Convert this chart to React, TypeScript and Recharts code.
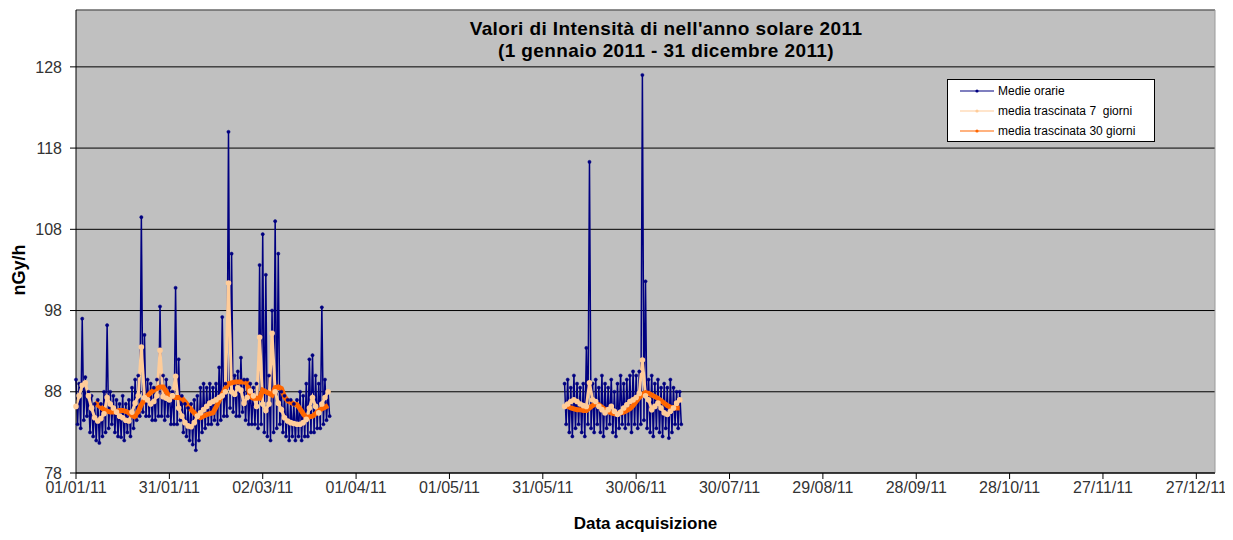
import React from "react";
import {
  CartesianGrid,
  Label,
  Line,
  LineChart,
  ReferenceLine,
  XAxis,
  YAxis,
} from "recharts";

// x = giorni dal 01/01/11
const TICK_DAYS = [0, 30, 60, 90, 120, 150, 180, 210, 240, 270, 300, 330, 360];
const TICK_LABELS = [
  "01/01/11", "31/01/11", "02/03/11", "01/04/11", "01/05/11", "31/05/11", "30/06/11",
  "30/07/11", "29/08/11", "28/09/11", "28/10/11", "27/11/11", "27/12/11",
];
const Y_TICKS = [78, 88, 98, 108, 118, 128];

// medie orarie: massimo e minimo giornaliero
const SEG1_START = 0;
const SEG1_HI = [
  89.5, 89, 97, 89.8, 88, 87.5, 86.5, 87, 86.5, 88, 96.2, 88, 87.5, 87, 86.5, 87.5, 86.5,
  87, 88.5, 89.5, 90, 109.5, 95, 89.5, 89, 88.5, 89.5, 98.5, 90, 89.5, 88.5, 88, 100.8,
  92, 87.5, 86.5, 86, 86.5, 87, 87.5, 88.5, 89, 88.5, 89, 88.5, 89, 91, 97.2, 89, 120,
  105, 90, 90.5, 92.2, 89.5, 89.5, 89, 88.5, 89, 103.6, 107.4, 102.4, 90, 98, 109, 105,
  88, 87.5, 87, 87, 86.5, 87, 88, 87.5, 89, 92, 92.5, 90, 89, 98.4, 89.5, 88,
];
const SEG1_LO = [
  84, 83.5, 84.5, 85, 83, 82.5, 82, 81.7, 82.5, 83, 83.5, 84, 83, 82.5, 82.4, 82, 83,
  82.5, 83.5, 84.5, 85, 85.5, 85, 85, 84.5, 84.5, 85, 85, 84.5, 85, 84, 84, 84, 84.5, 83,
  82.5, 82, 81.5, 80.8, 82, 83, 83.5, 84, 84, 84.5, 84, 84.5, 85, 85, 86, 85.5, 85, 85,
  85.5, 84.5, 84, 84, 84, 83.5, 84, 83, 82.5, 82, 83, 83.5, 84, 83, 82.5, 82, 82.5, 82,
  82.5, 82, 82.5, 82.5, 83, 83, 83.5, 83.5, 84, 84.5, 85,
];
const SEG2_START = 157;
const SEG2_HI = [
  89, 89.5, 88.5, 90, 89, 88.5, 89, 93.4, 116.3, 89, 89.5, 88.5, 90, 89, 88.5, 89.5, 88,
  89, 90, 89, 89.5, 90, 90.5, 90, 90.5, 127, 101.6, 89.5, 90, 89, 89.5, 88.5, 89, 88.5,
  89.5, 88.5, 88, 88,
];
const SEG2_LO = [
  84, 83, 82.5, 83.5, 84, 83, 82.5, 84, 83.5, 83, 84, 83, 82.5, 83.5, 84, 83, 82.5, 83.5,
  84, 83.5, 84, 83, 84, 83.5, 84, 84.5, 83.5, 83, 82.5, 83.5, 83, 82.5, 83.5, 82.3, 83,
  84, 83.5, 84,
];

// media trascinata 7 giorni
const MA7_SEG1_START = 0;
const MA7_SEG1 = [
  86.2, 87.5, 88.8, 89.1, 87.5, 86, 84.8, 84.4, 84.7, 85.3, 87.3, 86.5, 86, 85.5, 85,
  84.8, 84.5, 84.4, 85.5, 86.6, 87.5, 93.5, 87.3, 87, 86.5, 86.8, 87.5, 93.1, 87.4, 87.2,
  87, 87.5, 89.9, 86, 85, 84.2, 83.8, 83.7, 84.2, 85, 85.4, 85.8, 86.2, 86.6, 86.8, 87,
  87.3, 87.5, 88, 101.4, 88, 87.7, 88.5, 88.2, 86.6, 87.3, 88.1, 87.5, 86.2, 94.7, 86.5,
  85.7, 86.5, 95.2, 88, 86.6, 85.8, 84.8, 84.4, 84.2, 84.1, 84, 84, 84.2, 84.6, 86, 87.3,
  86.2, 85.4, 86.5, 87.3, 88,
];
const MA7_SEG2_START = 157;
const MA7_SEG2 = [
  86.2, 86.5, 86.8, 87, 86.8, 86.5, 86.3, 86.2, 89.1, 87, 86.8, 86.2, 85.8, 85.4, 85.8,
  86.2, 85.6, 85.2, 85.5, 86, 86.4, 86.8, 87, 87.3, 87.8, 91.9, 87.5, 87, 85.8, 86.2,
  86.6, 86, 85.4, 85.2, 85.6, 86, 86.6, 87,
];

// media trascinata 30 giorni
const MA30_SEG1_START = 6;
const MA30_SEG1 = [
  86.7, 86.4, 86.1, 85.8, 85.6, 85.5, 85.5, 85.6, 85.7, 85.7, 85.6, 85.4, 85.1, 84.9,
  85.6, 86.4, 87, 87.5, 87.9, 88.2, 88.4, 88.6, 88.6, 88, 87.4, 87.4, 87.3, 87.3, 87.2,
  86.8, 86.3, 85.8, 85.4, 85, 84.8, 85, 85.2, 85.3, 85.4, 86.1, 86.9, 87.7, 88.4, 89,
  89.1, 89.2, 89.2, 89.2, 89.2, 89.1, 87.4, 87.2, 87.2, 87.2, 88.2, 88, 87.8, 87.6, 88.5,
  88.6, 88.4, 87.4, 86.9, 86.7, 86.5, 86.4, 85.9, 85.3, 84.8, 84.9, 85, 85.3, 85.7, 85.9,
  86.1, 86.3,
];
const MA30_SEG2_START = 157;
const MA30_SEG2 = [
  86.4, 86.2, 86, 85.9, 85.8, 85.8, 85.7, 85.7, 86, 86.3, 86.5, 86.4, 86.1, 85.8, 85.6,
  85.4, 85.3, 85.3, 85.4, 85.5, 85.7, 85.9, 86.3, 86.8, 87.3, 87.7, 87.9, 87.8, 87.6,
  87.4, 87.2, 86.9, 86.6, 86.3, 86.1, 86, 86, 86,
];

type Pt = { day: number; v: number | null };

function hourly(start: number, hi: number[], lo: number[]): Pt[] {
  const out: Pt[] = [];
  hi.forEach((h, i) => {
    out.push({ day: start + i, v: h });
    out.push({ day: start + i + 0.5, v: lo[i] });
  });
  return out;
}

function daily(start: number, vals: number[]): Pt[] {
  return vals.map((v, i) => ({ day: start + i, v }));
}

// null in mezzo per interrompere la linea tra i due periodi
const gap = (a: Pt[], b: Pt[]): Pt[] => [...a, { day: (a[a.length - 1].day + b[0].day) / 2, v: null }, ...b];

const blueData = gap(hourly(SEG1_START, SEG1_HI, SEG1_LO), hourly(SEG2_START, SEG2_HI, SEG2_LO));
const ma7Data = gap(daily(MA7_SEG1_START, MA7_SEG1), daily(MA7_SEG2_START, MA7_SEG2));
const ma30Data = gap(daily(MA30_SEG1_START, MA30_SEG1), daily(MA30_SEG2_START, MA30_SEG2));

const NAVY = "#000080";
const PEACH = "#FFCC99";
const ORANGE = "#FF6600";
const FONT = "'Liberation Sans', Arial, sans-serif";

const LEGEND_ITEMS = [
  { label: "Medie orarie", color: NAVY },
  { label: "media trascinata 7  giorni", color: PEACH },
  { label: "media trascinata 30 giorni", color: ORANGE },
];

function ChartLegend() {
  return (
    <div
      style={{
        position: "absolute",
        left: 939,
        top: 71,
        background: "#fff",
        border: "1px solid #000",
        width: 206,
        height: 61,
        fontSize: 12,
        color: "#000",
        whiteSpace: "pre",
      }}
    >
      {LEGEND_ITEMS.map((it, i) => (
        <div key={it.label} style={{ display: "flex", alignItems: "center", height: 20, marginTop: i === 0 ? 1 : 0 }}>
          <svg width={50} height={20}>
            <line x1={12} x2={46} y1={10} y2={10} stroke={it.color} strokeWidth={1.2} />
            <circle cx={29} cy={10} r={1.6} fill={it.color} />
          </svg>
          <span>{it.label}</span>
        </div>
      ))}
    </div>
  );
}

export default function App() {
  return (
    <div style={{ position: "relative", width: 1225, height: 530, fontFamily: FONT }}>
      <LineChart width={1225} height={530} margin={{ top: 2, right: 18, bottom: 9, left: 0 }}>
        <CartesianGrid horizontal vertical={false} stroke="#000" fill="#C0C0C0" />
        <ReferenceLine y={135} stroke="#9a9a9a" />
        <ReferenceLine x={366} stroke="#9a9a9a" />
        <XAxis
          type="number"
          dataKey="day"
          domain={[0, 366]}
          ticks={TICK_DAYS}
          tickFormatter={(d: number) => TICK_LABELS[TICK_DAYS.indexOf(d)] ?? ""}
          interval={0}
          height={56}
          tickSize={6}
          tickMargin={3}
          axisLine={{ stroke: "#000" }}
          tickLine={{ stroke: "#000" }}
          tick={{ fill: "#333", fontSize: 16, fontFamily: FONT }}
        >
          <Label
            value="Data acquisizione"
            position="insideBottom"
            offset={0}
            style={{ fontWeight: "bold", fontSize: 17, fill: "#000", fontFamily: FONT }}
          />
        </XAxis>
        <YAxis
          type="number"
          domain={[78, 135]}
          ticks={Y_TICKS}
          interval={0}
          width={68}
          tickSize={6}
          tickMargin={8}
          axisLine={{ stroke: "#000" }}
          tickLine={{ stroke: "#000" }}
          tick={{ fill: "#333", fontSize: 16, fontFamily: FONT }}
        >
          <Label
            content={() => (
              <text
                x={11}
                y={262}
                transform="rotate(-90 11 262)"
                textAnchor="middle"
                dominantBaseline="central"
                style={{ fontWeight: "bold", fontSize: 18, fill: "#000", fontFamily: FONT }}
              >
                nGy/h
              </text>
            )}
          />
        </YAxis>
        <Line
          data={blueData}
          dataKey="v"
          stroke={NAVY}
          strokeWidth={1.5}
          dot={{ r: 1.6, fill: NAVY, stroke: NAVY, strokeWidth: 0.5 }}
          isAnimationActive={false}
          connectNulls={false}
        />
        <Line
          data={ma7Data}
          dataKey="v"
          stroke={PEACH}
          strokeWidth={3}
          dot={{ r: 1.3, fill: PEACH, stroke: PEACH }}
          isAnimationActive={false}
          connectNulls={false}
        />
        <Line
          data={ma30Data}
          dataKey="v"
          stroke={ORANGE}
          strokeWidth={5}
          dot={false}
          isAnimationActive={false}
          connectNulls={false}
        />
      </LineChart>
      <ChartLegend />
      <div
        style={{
          position: "absolute",
          left: 358,
          width: 600,
          top: 10,
          textAlign: "center",
          fontWeight: "bold",
          fontSize: 19,
          letterSpacing: 0.4,
          lineHeight: "22px",
          color: "#000",
          pointerEvents: "none",
        }}
      >
        Valori di Intensità di nell'anno solare 2011
        <br />
        (1 gennaio 2011 - 31 dicembre 2011)
      </div>
    </div>
  );
}
